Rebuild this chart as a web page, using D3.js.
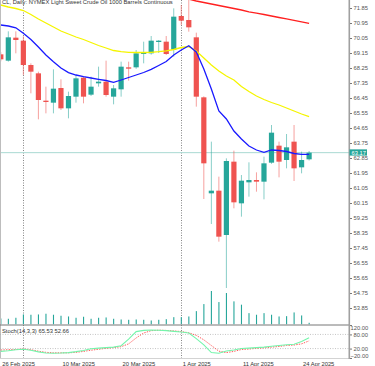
<!DOCTYPE html>
<html><head><meta charset="utf-8">
<script src="https://cdn.jsdelivr.net/npm/d3@7"></script>
<style>
html,body{margin:0;padding:0;background:#fff;overflow:hidden}
svg{display:block}
text{font-family:"Liberation Sans",Arial,sans-serif;}
</style>
</head><body>
<svg id="c" width="375" height="366"></svg>
<script>
const title = "CL, Daily:  NYMEX Light Sweet Crude Oil 1000 Barrels Continuous";
const dates = ["2025-02-26","2025-02-27","2025-02-28","2025-03-03","2025-03-04","2025-03-05","2025-03-06","2025-03-07","2025-03-10","2025-03-11","2025-03-12","2025-03-13","2025-03-14","2025-03-17","2025-03-18","2025-03-19","2025-03-20","2025-03-21","2025-03-24","2025-03-25","2025-03-26","2025-03-27","2025-03-28","2025-03-31","2025-04-01","2025-04-02","2025-04-03","2025-04-04","2025-04-07","2025-04-08","2025-04-09","2025-04-10","2025-04-11","2025-04-14","2025-04-15","2025-04-16","2025-04-17","2025-04-21","2025-04-22","2025-04-23","2025-04-24","2025-04-25"];
const open  = [69.07,68.69,70.07,69.89,68.43,67.93,66.29,66.17,67.05,65.83,66.53,67.67,66.65,67.33,67.43,66.53,66.97,68.29,68.29,69.09,69.13,69.81,69.83,69.35,71.37,71.13,70.09,66.49,60.73,60.89,58.23,62.63,60.13,61.39,61.53,61.43,62.57,63.59,62.73,63.83,62.29,62.77];
const high  = [69.20,70.45,70.45,70.15,68.53,68.03,67.13,68.17,67.57,66.83,67.83,67.71,67.73,68.33,68.69,67.23,68.63,68.63,69.33,69.83,70.17,69.93,70.17,71.83,72.03,72.40,70.37,66.55,63.83,61.73,62.83,63.29,61.83,62.59,61.99,62.93,64.83,63.83,64.29,64.83,63.23,63.27];
const low   = [68.65,68.63,69.13,67.83,66.73,65.17,65.53,65.53,65.73,65.23,66.17,66.13,66.57,67.13,66.53,66.07,66.53,67.49,68.20,68.53,69.05,69.15,69.03,68.93,70.83,70.43,65.93,60.39,58.89,57.83,55.05,59.83,59.33,60.53,60.83,60.37,62.50,61.69,62.23,61.47,61.93,62.70];
const close = [68.77,70.09,69.93,68.43,68.03,66.33,66.21,67.01,65.83,66.57,67.63,66.53,67.13,67.43,66.63,67.03,68.33,68.21,69.13,69.17,69.89,69.89,69.09,71.33,71.09,70.69,66.53,62.53,60.89,58.13,62.67,60.19,61.49,61.53,61.43,62.53,64.37,62.63,63.49,62.23,62.73,63.17];
const volume = [60,57,67,100,97,100,107,97,87,80,67,77,57,67,70,57,50,47,50,47,40,47,53,73,73,80,133,203,333,223,313,230,197,113,97,113,97,80,83,120,90,17];
const maFast = [70.83,70.77,70.66,70.33,69.96,69.51,69.03,68.63,68.25,67.97,67.83,67.73,67.65,67.57,67.50,67.39,67.53,67.68,67.83,67.98,68.17,68.40,68.64,69.03,69.33,69.59,69.21,68.19,66.99,65.67,65.19,64.47,63.99,63.57,63.33,63.19,63.33,63.30,63.24,63.12,63.07,63.07];
const maMid = [72.03,71.91,71.82,71.70,71.46,71.19,70.95,70.71,70.47,70.29,70.11,69.96,69.78,69.60,69.45,69.30,69.23,69.19,69.18,69.18,69.19,69.23,69.28,69.36,69.48,69.54,69.27,68.85,68.43,68.07,67.77,67.53,67.14,66.84,66.57,66.36,66.18,66.03,65.85,65.67,65.49,65.33];
const maSlow = [null,null,null,null,null,null,null,null,null,null,null,null,null,null,null,null,null,null,null,null,null,null,null,null,72.48,72.38,72.27,72.18,72.09,72.00,71.91,71.82,71.73,71.62,71.54,71.46,71.37,71.28,71.20,71.11,71.02,70.93];
const stochK = [8,11,15,17,13,6,1,0,1,3,7,12,19,22,24,26,32,60,92,97,99,98,96,93,90,86,62,36,3,0,10,14,20,22,24,26,30,33,36,38,50,65.53];
const stochD = [14,15,16,18,15,9,4,2,2,2,4,8,13,17,21,24,28,40,65,86,96,98,97,95,92,87,76,57,33,9,3,8,16,18,21,23,26,29,33,35,40,52.66];
const priceTicks = ["71.85","70.95","70.05","69.15","68.25","67.35","66.45","65.55","64.65","63.75","62.85","61.95","61.05","60.15","59.25","58.35","57.45","56.55","55.65","54.75","53.85"];
const stochTicks = ["120.00","80.00","20.00","-20.00"];
const stochLevels = [80, 20];
const dateTickDates = ["2025-02-26","2025-03-10","2025-03-20","2025-04-01","2025-04-11","2025-04-24"];
const dateTickLabels = ["26 Feb 2025","10 Mar 2025","20 Mar 2025","1 Apr 2025","11 Apr 2025","24 Apr 2025"];
const separators = ["2025-03-03","2025-04-01"];
const bidPrice = 63.17;
const stochLabel = "Stoch(14,3,3) 65.53 52.66";

const FS = 5.8;
const W = 349, mainBottom = 324.5, stTop = 325, stBottom = 358;
const UP = "#26a69a", DN = "#ef5350";
const svg = d3.select("#c");

const x = d3.scalePoint().domain(dates).range([0.8, 309.1]);
const y = d3.scaleLinear().domain([53.85, 71.85]).range([308, 8]);
const vy = d3.scaleLinear().domain([0, 333]).range([mainBottom, mainBottom - 33.5]);
const sy = d3.scaleLinear().domain([-20, 120]).range([stBottom, stTop]);

svg.append("defs").append("clipPath").attr("id","mainclip").append("rect").attr("x",0).attr("y",0).attr("width",W).attr("height",mainBottom);
svg.select("defs").append("clipPath").attr("id","stclip").append("rect").attr("x",0).attr("y",stTop).attr("width",W).attr("height",stBottom-stTop);

// period separators
svg.append("g").selectAll("line").data(separators).join("line")
  .attr("x1", d => Math.round(x(d)) + 0.5).attr("x2", d => Math.round(x(d)) + 0.5)
  .attr("y1", 0).attr("y2", stBottom)
  .attr("stroke", "#666").attr("stroke-width", 0.8).attr("stroke-dasharray", "1,1.5");

const main = svg.append("g").attr("clip-path","url(#mainclip)");

// volumes
main.append("g").selectAll("rect").data(volume).join("rect")
  .attr("x", (d,i) => x(dates[i]) - 0.5).attr("width", 1.1)
  .attr("y", d => vy(d)).attr("height", d => mainBottom - vy(d))
  .attr("fill", UP);

// bid line
main.append("line").attr("x1",0).attr("x2",W).attr("y1",y(bidPrice)).attr("y2",y(bidPrice))
  .attr("stroke","#a9d9d2").attr("stroke-width",1);

// candles
const cg = main.append("g").selectAll("g").data(dates).join("g");
cg.append("line")
  .attr("x1", d => x(d)).attr("x2", d => x(d))
  .attr("y1", (d,i) => y(high[i])).attr("y2", (d,i) => y(low[i]))
  .attr("stroke", (d,i) => close[i] >= open[i] ? UP : DN).attr("stroke-opacity", 0.55).attr("stroke-width", 1);
cg.append("rect")
  .attr("x", d => x(d) - 2.6).attr("width", 5.2)
  .attr("y", (d,i) => y(Math.max(open[i], close[i])))
  .attr("height", (d,i) => Math.max(1.2, Math.abs(y(open[i]) - y(close[i]))))
  .attr("fill", (d,i) => close[i] >= open[i] ? UP : DN);

// moving averages
const ln = d3.line().defined(d => d != null).x((d,i) => x(dates[i])).y(d => y(d));
main.append("path").attr("d", ln(maSlow)).attr("fill","none").attr("stroke","#ff2020").attr("stroke-width",1.3);
main.append("path").attr("d", ln(maMid)).attr("fill","none").attr("stroke","#f5f500").attr("stroke-width",1.3);
main.append("path").attr("d", ln(maFast)).attr("fill","none").attr("stroke","#1a1aff").attr("stroke-width",1.3);

// title
svg.append("text").attr("x",2).attr("y",3.6).attr("font-size",FS).attr("fill","#333").text(title);

// left border
svg.append("line").attr("x1",0.5).attr("x2",0.5).attr("y1",0).attr("y2",stBottom).attr("stroke","#bdbdbd");

// panel separator
svg.append("line").attr("x1",0).attr("x2",W+1).attr("y1",stTop).attr("y2",stTop).attr("stroke","#777").attr("stroke-width",1);
svg.append("line").attr("x1",0).attr("x2",W+1).attr("y1",stBottom+0.5).attr("y2",stBottom+0.5).attr("stroke","#c8c8c8").attr("stroke-width",0.8);

// stochastic panel
const st = svg.append("g").attr("clip-path","url(#stclip)");
st.append("g").selectAll("line").data(stochLevels).join("line")
  .attr("x1",0).attr("x2",W).attr("y1",d=>sy(d)).attr("y2",d=>sy(d))
  .attr("stroke","#aaa").attr("stroke-width",0.7).attr("stroke-dasharray","1,1.5");
const sl = d3.line().x((d,i) => x(dates[i])).y(d => sy(d));
st.append("path").attr("d", sl(stochD)).attr("fill","none").attr("stroke","#ff5c5c").attr("stroke-width",1).attr("stroke-dasharray","1.4,1.2");
st.append("path").attr("d", sl(stochK)).attr("fill","none").attr("stroke","#74f5ab").attr("stroke-width",1.1);
svg.append("text").attr("x",2).attr("y",332.5).attr("font-size",FS).attr("fill","#333").text(stochLabel);

// right price axis
svg.append("line").attr("x1",W+0.3).attr("x2",W+0.3).attr("y1",0).attr("y2",stBottom+1).attr("stroke","#a0a0a0").attr("stroke-width",1.6);
const pa = svg.append("g").attr("transform",`translate(${W+1},0)`)
  .call(d3.axisRight(y).tickValues(priceTicks.map(Number)).tickFormat(d3.format(".2f")).tickSize(2).tickPadding(1.5));
pa.select(".domain").remove();
pa.selectAll("line").attr("stroke","#777");
pa.selectAll("text").attr("font-size",FS).attr("fill","#555").attr("font-family",'"Liberation Sans",Arial,sans-serif');

// stochastic axis
const sa = svg.append("g").attr("transform",`translate(${W+1},0)`)
  .call(d3.axisRight(sy).tickValues(stochTicks.map(Number)).tickFormat(d3.format(".2f")).tickSize(2).tickPadding(1.5));
sa.select(".domain").remove();
sa.selectAll("line").attr("stroke","#777");
sa.selectAll("text").attr("font-size",FS).attr("fill","#555").attr("font-family",'"Liberation Sans",Arial,sans-serif')
  .attr("y", d => d === 120 ? 2.6 : (d === -20 ? -2.3 : 0))
  .attr("x", d => Math.abs(d) >= 100 || d < 0 ? 0.5 : 3.5);

// bid label
svg.append("rect").attr("x",W+0.5).attr("y",y(bidPrice)-3.3).attr("width",17.5).attr("height",6.2).attr("fill",UP);
svg.append("text").attr("x",W+2.5).attr("y",y(bidPrice)).attr("dy","0.35em").attr("font-size",FS).attr("fill","#fff").text(d3.format(".2f")(bidPrice));

// date axis
const da = svg.append("g").attr("transform",`translate(0,${stBottom})`)
  .call(d3.axisBottom(x).tickValues(dateTickDates).tickFormat((d,i) => dateTickLabels[i]).tickSize(0));
da.select(".domain").remove();
da.selectAll("text").attr("font-size",FS).attr("fill","#333").attr("text-anchor","start")
  .attr("font-family",'"Liberation Sans",Arial,sans-serif')
  .attr("x", 1).attr("y", 7.5).attr("dy", 0);
</script>
</body></html>
